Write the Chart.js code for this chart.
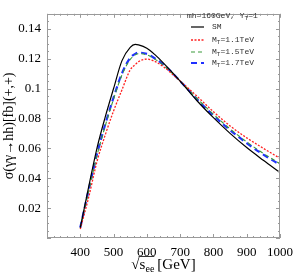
<!DOCTYPE html>
<html><head><meta charset="utf-8">
<script src="https://cdn.jsdelivr.net/npm/chart.js@4"></script>
<style>html,body{margin:0;padding:0;background:#fff}#w{width:300px;height:278px}</style>
</head><body><div id="w"><canvas id="c"></canvas></div>
<script>
const energies = [400,425,450,475,500,525,550,565,575,600,625,650,700,750,800,850,900,950,1000];
const smVals   = [0.007,0.034,0.060,0.081,0.100,0.1185,0.1275,0.1295,0.1292,0.127,0.1225,0.117,0.105,0.092,0.0805,0.070,0.0605,0.052,0.0438];
const mt11Vals = [0.006,0.027,0.051,0.069,0.085,0.099,0.1125,0.116,0.118,0.1197,0.118,0.1145,0.105,0.095,0.0845,0.075,0.067,0.060,0.0533];
const mt15Vals = [0.007,0.031,0.055,0.075,0.093,0.109,0.1195,0.1225,0.1233,0.1225,0.1195,0.1155,0.105,0.0935,0.0828,0.073,0.0643,0.0566,0.0497];
const mt17Vals = [0.007,0.032,0.056,0.076,0.094,0.110,0.1205,0.1232,0.124,0.1232,0.120,0.116,0.105,0.093,0.082,0.0722,0.0635,0.0558,0.049];
const xTicks = [400,500,600,700,800,900,1000];
const yTicks = [0.02,0.04,0.06,0.08,0.1,0.12,0.14];
const seriesNames = ['SM','M=1.1TeV','M=1.5TeV','M=1.7TeV'];

const pts = v => energies.map((e,i)=>({x:e,y:v[i]}));
const styles = [
  {c:'#000000', w:1.2, d:[]},
  {c:'#ff2020', w:1.3, d:[2,1.5]},
  {c:'#3a9a3a', w:1.1, d:[4,3]},
  {c:'#2030ff', w:2.2, d:[6,4]}
];
const allVals=[smVals,mt11Vals,mt15Vals,mt17Vals];
const datasets = allVals.map((v,i)=>({label:seriesNames[i],data:pts(v),borderColor:styles[i].c,borderWidth:styles[i].w,borderDash:styles[i].d,pointRadius:0,fill:false,cubicInterpolationMode:'monotone'}));
const deco = {
  id:'deco',
  afterDraw(ch){
    const ctx=ch.ctx, a=ch.chartArea, xs=ch.scales.x, ys=ch.scales.y;
    ctx.save();
    ctx.strokeStyle='#9a9a9a'; ctx.lineWidth=1;
    ctx.strokeRect(Math.round(a.left)+0.5,Math.round(a.top)+0.5,Math.round(a.right-a.left)-1,Math.round(a.bottom-a.top)-1);
    ctx.beginPath();
    for(let v=300; v<=1000; v+=20){
      const px=Math.round(xs.getPixelForValue(v))+0.5;
      const L = (v%100===0)?4:2;
      ctx.moveTo(px,a.bottom); ctx.lineTo(px,a.bottom-L);
      ctx.moveTo(px,a.top); ctx.lineTo(px,a.top+L);
    }
    for(let k=0;k<=30;k++){
      const v=k*0.005;
      const py=Math.round(ys.getPixelForValue(v))+0.5;
      const L=(k%4===0)?4:2;
      ctx.moveTo(a.left,py); ctx.lineTo(a.left+L,py);
      ctx.moveTo(a.right,py); ctx.lineTo(a.right-L,py);
    }
    ctx.stroke();
    // x title
    ctx.fillStyle='#000';
    const cx=(a.left+a.right)/2, ty=269;
    ctx.font='15px "Liberation Serif"';
    const w1=ctx.measureText('√').width;
    const sW=ctx.measureText('s').width;
    ctx.font='10px "Liberation Serif"';
    const eW=ctx.measureText('ee').width;
    ctx.font='15px "Liberation Serif"';
    const gW=ctx.measureText('[GeV]').width;
    const gap=3;
    const total=w1+sW+eW+gap+gW;
    let x0=cx-total/2;
    ctx.textBaseline='alphabetic';
    ctx.fillText('√',x0,ty);
    ctx.fillText('s',x0+w1,ty);
    ctx.font='10px "Liberation Serif"';
    ctx.fillText('ee',x0+w1+sW,ty+3);
    ctx.font='15px "Liberation Serif"';
    ctx.fillText('[GeV]',x0+w1+sW+eW+gap,ty);
    ctx.beginPath(); ctx.strokeStyle='#000'; ctx.lineWidth=0.8;
    ctx.moveTo(x0+w1-1,ty-12.5); ctx.lineTo(x0+w1+sW+eW,ty-12.5); ctx.stroke();
    // y title
    ctx.save();
    ctx.translate(13,(a.top+a.bottom)/2); ctx.rotate(-Math.PI/2);
    ctx.font='14px "Liberation Serif"'; ctx.textAlign='center';
    ctx.fillText('σ(γγ→hh)[fb](+,+)',0,0);
    ctx.restore();
    // legend
    ctx.font='8px "Liberation Mono"'; ctx.textAlign='left'; ctx.textBaseline='middle'; ctx.fillStyle='#333';
    ctx.fillText('mh=160GeV, Y',187,16);
    let hw=ctx.measureText('mh=160GeV, Y').width;
    ctx.font='6px "Liberation Mono"'; ctx.fillText('T',187+hw,18);
    let tw=ctx.measureText('T').width;
    ctx.font='8px "Liberation Mono"'; ctx.fillText('=1',187+hw+tw,16);
    const ly=[27,40,52,63];
    const labs=['SM','1.1TeV','1.5TeV','1.7TeV'];
    for(let i=0;i<4;i++){
      ctx.beginPath(); ctx.strokeStyle=styles[i].c; ctx.lineWidth=styles[i].w; ctx.setLineDash(styles[i].d);
      ctx.moveTo(191,ly[i]); ctx.lineTo(204,ly[i]); ctx.stroke(); ctx.setLineDash([]);
      ctx.fillStyle='#333';
      if(i===0){ ctx.font='8px "Liberation Mono"'; ctx.fillText('SM',212,ly[i]); }
      else {
        ctx.font='8px "Liberation Mono"'; ctx.fillText('M',212,ly[i]);
        const mw=ctx.measureText('M').width;
        ctx.font='6px "Liberation Mono"'; ctx.fillText('T',212+mw,ly[i]+2);
        const t2=ctx.measureText('T').width;
        ctx.font='8px "Liberation Mono"'; ctx.fillText('='+labs[i],212+mw+t2,ly[i]);
      }
    }
    ctx.restore();
  }
};
new Chart(document.getElementById('c'),{
  type:'line',
  data:{datasets},
  options:{
    responsive:true, maintainAspectRatio:false, animation:false,
    layout:{padding:{top:1,right:14,left:0,bottom:0}},
    plugins:{legend:{display:false},tooltip:{enabled:false}},
    scales:{
      x:{type:'linear',min:300,max:1000,
        afterBuildTicks(s){s.ticks=xTicks.map(v=>({value:v}));},
        afterFit(s){s.height=40;},
        grid:{display:false,drawTicks:false},border:{display:false},
        ticks:{padding:7,color:'#000',font:{family:'Liberation Serif',size:13},maxRotation:0,callback:v=>String(v)}},
      y:{type:'linear',min:0,max:0.15,
        afterBuildTicks(s){s.ticks=yTicks.map(v=>({value:v}));},
        afterFit(s){s.width=47;},
        grid:{display:false,drawTicks:false},border:{display:false},
        ticks:{padding:6,color:'#000',font:{family:'Liberation Serif',size:13},callback:v=>(Math.abs(v-0.1)<1e-9?'0.1':v.toFixed(2))}}
    }
  },
  plugins:[deco]
});
</script></body></html>
